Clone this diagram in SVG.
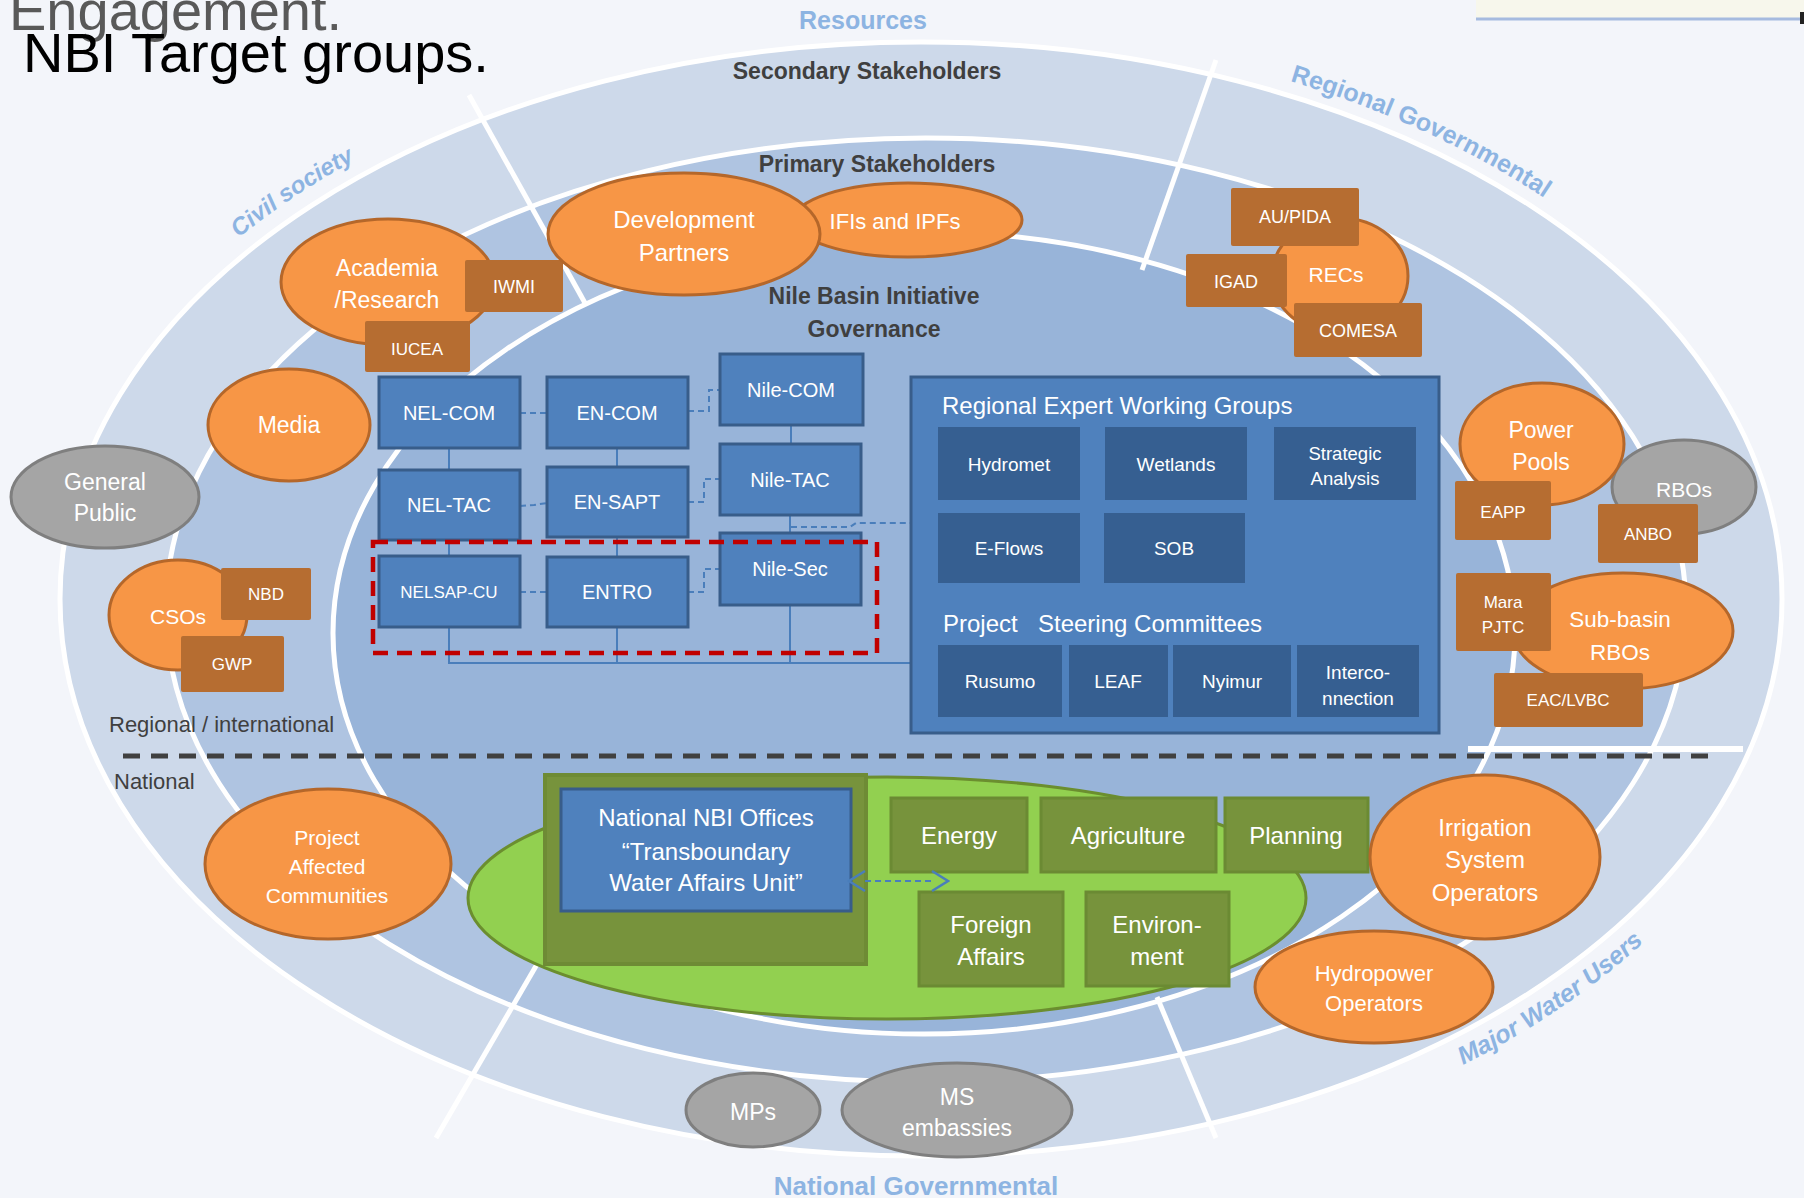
<svg xmlns="http://www.w3.org/2000/svg" width="1804" height="1198" viewBox="0 0 1804 1198">
<defs>
<style>
text{font-family:"Liberation Sans",Arial,sans-serif}
.ring{stroke:#fff;stroke-width:5}
.div{stroke:#fff;stroke-width:5;fill:none}
.org{fill:#f79646;stroke:#b5672a;stroke-width:3}
.brn{fill:#b66d31}
.gry{fill:#a5a5a5;stroke:#7f7f7f;stroke-width:3}
.blu{fill:#4f81bd;stroke:#385d8a;stroke-width:3}
.dkb{fill:#365f91}
.grn{fill:#77933c;stroke:#6b8a33;stroke-width:3}
.w{fill:#fff;text-anchor:middle}
.lbl{fill:#8db4e2;font-weight:bold}
.dk{fill:#3f3f3f}
.hd{fill:#3f3f3f;font-weight:bold;font-size:23px;text-anchor:middle}
.solid{stroke:#4a7ebb;stroke-width:2;fill:none}
.dash{stroke:#4a7ebb;stroke-width:2;fill:none;stroke-dasharray:6 4}
</style>
<marker id="chev" viewBox="0 0 20 24" refX="2" refY="12" markerWidth="20" markerHeight="24" markerUnits="userSpaceOnUse" orient="auto-start-reverse">
<polyline points="2,2 18,12 2,22" fill="none" stroke="#4a7ebb" stroke-width="2.5"/>
</marker>
<path id="arcCivil" d="M238.7,237.8 A878,574 0 0 1 620.7,59.6"/>
<path id="arcRegGov" d="M1290,81 A875,571 0 0 1 1638,271.5"/>
<path id="arcWater" d="M1463,1065 A891,587 0 0 0 1728.5,847"/>
</defs>

<!-- page -->
<rect x="0" y="0" width="1804" height="1198" fill="#f3f5fa"/>
<rect x="1476" y="0" width="328" height="18" fill="#f7f7ec"/>
<line x1="1476" y1="19" x2="1804" y2="19" stroke="#a6bbdf" stroke-width="3"/>
<rect x="1800" y="12" width="4" height="12" fill="#222"/>

<!-- titles -->
<text x="9" y="30" font-size="56" fill="#595959">Engagement.</text>
<text x="23" y="72" font-size="56" fill="#000">NBI Target groups.</text>

<!-- stakeholder rings -->
<g id="rings">
<ellipse class="ring" cx="921" cy="599" rx="861" ry="557" fill="#cdd9ea"/>
<ellipse class="ring" cx="926" cy="610" rx="760" ry="472" fill="#afc4e1"/>
<ellipse class="ring" cx="924" cy="633" rx="591" ry="401" fill="#98b4d9"/>
<line class="div" x1="469" y1="95" x2="585" y2="303"/>
<line class="div" x1="1216" y1="60" x2="1142" y2="270"/>
<line class="div" x1="554" y1="935" x2="436" y2="1138"/>
<line class="div" x1="1157" y1="997" x2="1216" y2="1138"/>
</g>

<!-- ring and sector labels -->
<g id="labels">
<text class="lbl" x="863" y="29" font-size="25" text-anchor="middle">Resources</text>
<text class="lbl" x="916" y="1195" font-size="26" text-anchor="middle">National Governmental</text>
<text class="lbl" font-size="24" font-style="italic"><textPath href="#arcCivil">Civil society</textPath></text>
<text class="lbl" font-size="25"><textPath href="#arcRegGov">Regional Governmental</textPath></text>
<text class="lbl" font-size="25" font-style="italic"><textPath href="#arcWater">Major Water Users</textPath></text>
<text class="hd" x="867" y="79">Secondary Stakeholders</text>
<text class="hd" x="877" y="172">Primary Stakeholders</text>
<text class="hd" x="874" y="304">Nile Basin Initiative</text>
<text class="hd" x="874" y="337">Governance</text>
<text class="dk" x="109" y="732" font-size="22">Regional / international</text>
<text class="dk" x="114" y="789" font-size="22">National</text>
</g>

<!-- regional / national divide -->
<g id="divide">
<line x1="1468" y1="749" x2="1743" y2="749" stroke="#fff" stroke-width="6"/>
<line x1="123" y1="756" x2="1708" y2="756" stroke="#404040" stroke-width="5" stroke-dasharray="17 11"/>
</g>

<!-- national level -->
<g id="national-area">
<ellipse cx="887" cy="898" rx="419" ry="121" fill="#92d050" stroke="#6b8e2f" stroke-width="3"/>
</g>
<g id="national-office">
<rect x="545" y="775" width="321" height="189" fill="#77933c" stroke="#6e8b35" stroke-width="4"/>
<rect class="blu" x="561" y="789" width="290" height="122"/>
<text class="w" font-size="24"><tspan x="706" y="826">National NBI Offices</tspan><tspan x="706" y="860">“Transboundary</tspan><tspan x="706" y="891">Water Affairs Unit”</tspan></text>
</g>
<g id="energy"><rect class="grn" x="891" y="798" width="136" height="74"/><text class="w" x="959" y="844" font-size="24">Energy</text></g>
<g id="agriculture"><rect class="grn" x="1041" y="798" width="175" height="74"/><text class="w" x="1128" y="844" font-size="24">Agriculture</text></g>
<g id="planning"><rect class="grn" x="1225" y="798" width="143" height="74"/><text class="w" x="1296" y="844" font-size="24">Planning</text></g>
<g id="foreign-affairs"><rect class="grn" x="919" y="892" width="144" height="94"/><text class="w" font-size="24"><tspan x="991" y="933">Foreign</tspan><tspan x="991" y="965">Affairs</tspan></text></g>
<g id="environment"><rect class="grn" x="1086" y="892" width="143" height="94"/><text class="w" font-size="24"><tspan x="1157" y="933">Environ-</tspan><tspan x="1157" y="965">ment</tspan></text></g>

<!-- connectors -->
<g id="connectors">
<line class="solid" x1="449" y1="448" x2="449" y2="470"/>
<line class="solid" x1="449" y1="540" x2="449" y2="556"/>
<line class="solid" x1="617" y1="448" x2="617" y2="467"/>
<line class="solid" x1="617" y1="537" x2="617" y2="557"/>
<line class="solid" x1="791" y1="425" x2="791" y2="444"/>
<line class="solid" x1="790" y1="515" x2="790" y2="533"/>
<polyline class="solid" points="449,627 449,663 911,663"/>
<line class="solid" x1="617" y1="627" x2="617" y2="663"/>
<line class="solid" x1="790" y1="605" x2="790" y2="663"/>
<line class="dash" x1="520" y1="413" x2="547" y2="413"/>
<polyline class="dash" points="520,506 534,505 547,503"/>
<line class="dash" x1="520" y1="592" x2="547" y2="592"/>
<polyline class="dash" points="688,411 709,411 709,390 720,390"/>
<polyline class="dash" points="688,502 704,502 704,479 720,479"/>
<polyline class="dash" points="688,592 704,592 704,569 720,569"/>
<polyline class="dash" points="791,527 850,527 856,523 911,523"/>
<line class="dash" x1="865" y1="881" x2="932" y2="881" stroke-width="2.5" marker-start="url(#chev)" marker-end="url(#chev)"/>
</g>

<!-- NBI governance bodies -->
<g id="nel-com"><rect class="blu" x="379" y="377" width="141" height="71"/><text class="w" x="449" y="420" font-size="20">NEL-COM</text></g>
<g id="en-com"><rect class="blu" x="547" y="377" width="141" height="71"/><text class="w" x="617" y="420" font-size="20">EN-COM</text></g>
<g id="nile-com"><rect class="blu" x="720" y="354" width="143" height="71"/><text class="w" x="791" y="397" font-size="20">Nile-COM</text></g>
<g id="nel-tac"><rect class="blu" x="379" y="470" width="141" height="70"/><text class="w" x="449" y="512" font-size="20">NEL-TAC</text></g>
<g id="en-sapt"><rect class="blu" x="547" y="467" width="141" height="70"/><text class="w" x="617" y="509" font-size="20">EN-SAPT</text></g>
<g id="nile-tac"><rect class="blu" x="720" y="444" width="141" height="71"/><text class="w" x="790" y="487" font-size="20">Nile-TAC</text></g>
<g id="nelsap-cu"><rect class="blu" x="379" y="556" width="141" height="71"/><text class="w" x="449" y="598" font-size="17">NELSAP-CU</text></g>
<g id="entro"><rect class="blu" x="547" y="557" width="141" height="70"/><text class="w" x="617" y="599" font-size="20">ENTRO</text></g>
<g id="nile-sec"><rect class="blu" x="720" y="533" width="141" height="72"/><text class="w" x="790" y="576" font-size="20">Nile-Sec</text></g>
<g id="centres-frame"><rect x="373" y="542" width="504" height="111" fill="none" stroke="#c00000" stroke-width="4.5" stroke-dasharray="15 9"/></g>

<!-- working groups and steering committees -->
<g id="expert-groups">
<rect class="blu" x="911" y="377" width="528" height="356"/>
<text x="942" y="414" font-size="24" fill="#fff">Regional Expert Working Groups</text>
<text x="943" y="632" font-size="24" fill="#fff">Project</text>
<text x="1038" y="632" font-size="24" fill="#fff">Steering Committees</text>
</g>
<g id="hydromet"><rect class="dkb" x="938" y="427" width="142" height="73"/><text class="w" x="1009" y="471" font-size="19">Hydromet</text></g>
<g id="wetlands"><rect class="dkb" x="1105" y="427" width="142" height="73"/><text class="w" x="1176" y="471" font-size="19">Wetlands</text></g>
<g id="strategic-analysis"><rect class="dkb" x="1274" y="427" width="142" height="73"/><text class="w" font-size="18.5"><tspan x="1345" y="460">Strategic</tspan><tspan x="1345" y="485">Analysis</tspan></text></g>
<g id="e-flows"><rect class="dkb" x="938" y="513" width="142" height="70"/><text class="w" x="1009" y="555" font-size="19">E-Flows</text></g>
<g id="sob"><rect class="dkb" x="1104" y="513" width="141" height="70"/><text class="w" x="1174" y="555" font-size="19">SOB</text></g>
<g id="rusumo"><rect class="dkb" x="938" y="645" width="124" height="72"/><text class="w" x="1000" y="688" font-size="19">Rusumo</text></g>
<g id="leaf"><rect class="dkb" x="1069" y="645" width="99" height="72"/><text class="w" x="1118" y="688" font-size="19">LEAF</text></g>
<g id="nyimur"><rect class="dkb" x="1173" y="645" width="118" height="72"/><text class="w" x="1232" y="688" font-size="19">Nyimur</text></g>
<g id="interconnection"><rect class="dkb" x="1297" y="645" width="122" height="72"/><text class="w" font-size="19"><tspan x="1358" y="679">Interco-</tspan><tspan x="1358" y="705">nnection</tspan></text></g>

<!-- stakeholder groups -->
<g id="academia">
<ellipse class="org" cx="388" cy="282" rx="107" ry="63"/>
<text class="w" font-size="23"><tspan x="387" y="276">Academia</tspan><tspan x="387" y="308">/Research</tspan></text>
<rect class="brn" x="465" y="260" width="98" height="52" rx="2"/><text class="w" x="514" y="293" font-size="18">IWMI</text>
<rect class="brn" x="365" y="321" width="105" height="51" rx="2"/><text class="w" x="417" y="355" font-size="17">IUCEA</text>
</g>
<g id="ifis">
<ellipse class="org" cx="908" cy="220" rx="114" ry="37"/>
<text class="w" x="895" y="229" font-size="22">IFIs and IPFs</text>
</g>
<g id="development-partners">
<ellipse class="org" cx="684" cy="234" rx="136" ry="61"/>
<text class="w" font-size="24"><tspan x="684" y="228">Development</tspan><tspan x="684" y="261">Partners</tspan></text>
</g>
<g id="recs">
<ellipse class="org" cx="1340" cy="276" rx="68" ry="58"/>
<text class="w" x="1336" y="282" font-size="21">RECs</text>
<rect class="brn" x="1231" y="188" width="128" height="58" rx="2"/><text class="w" x="1295" y="223" font-size="18">AU/PIDA</text>
<rect class="brn" x="1186" y="254" width="101" height="53" rx="2"/><text class="w" x="1236" y="288" font-size="18">IGAD</text>
<rect class="brn" x="1294" y="303" width="128" height="54" rx="2"/><text class="w" x="1358" y="337" font-size="18">COMESA</text>
</g>
<g id="media">
<ellipse class="org" cx="289" cy="425" rx="81" ry="56"/>
<text class="w" x="289" y="433" font-size="23">Media</text>
</g>
<g id="general-public">
<ellipse class="gry" cx="105" cy="497" rx="94" ry="51"/>
<text class="w" font-size="23"><tspan x="105" y="490">General</tspan><tspan x="105" y="521">Public</tspan></text>
</g>
<g id="csos">
<ellipse class="org" cx="178" cy="615" rx="69" ry="55"/>
<text class="w" x="178" y="624" font-size="21">CSOs</text>
<rect class="brn" x="221" y="568" width="90" height="52" rx="2"/><text class="w" x="266" y="600" font-size="17">NBD</text>
<rect class="brn" x="181" y="636" width="103" height="56" rx="2"/><text class="w" x="232" y="670" font-size="17">GWP</text>
</g>
<g id="rbos">
<ellipse class="gry" cx="1684" cy="487" rx="72" ry="47"/>
<text class="w" x="1684" y="497" font-size="21">RBOs</text>
</g>
<g id="power-pools">
<ellipse class="org" cx="1542" cy="444" rx="82" ry="61"/>
<text class="w" font-size="23"><tspan x="1541" y="438">Power</tspan><tspan x="1541" y="470">Pools</tspan></text>
<rect class="brn" x="1455" y="481" width="96" height="59" rx="2"/><text class="w" x="1503" y="518" font-size="17">EAPP</text>
</g>
<g id="anbo"><rect class="brn" x="1598" y="504" width="100" height="59" rx="2"/><text class="w" x="1648" y="540" font-size="17">ANBO</text></g>
<g id="sub-basin-rbos">
<ellipse class="org" cx="1623" cy="631" rx="110" ry="58"/>
<text class="w" font-size="22.5"><tspan x="1620" y="627">Sub-basin</tspan><tspan x="1620" y="660">RBOs</tspan></text>
<rect class="brn" x="1456" y="573" width="95" height="78" rx="2"/>
<text class="w" font-size="17"><tspan x="1503" y="608">Mara</tspan><tspan x="1503" y="633">PJTC</tspan></text>
<rect class="brn" x="1494" y="673" width="149" height="54" rx="2"/><text class="w" x="1568" y="706" font-size="17">EAC/LVBC</text>
</g>
<g id="project-affected-communities">
<ellipse class="org" cx="328" cy="864" rx="123" ry="75"/>
<text class="w" font-size="21"><tspan x="327" y="845">Project</tspan><tspan x="327" y="874">Affected</tspan><tspan x="327" y="903">Communities</tspan></text>
</g>
<g id="hydropower-operators">
<ellipse class="org" cx="1374" cy="987" rx="119" ry="56"/>
<text class="w" font-size="22"><tspan x="1374" y="981">Hydropower</tspan><tspan x="1374" y="1011">Operators</tspan></text>
</g>
<g id="irrigation-operators">
<ellipse class="org" cx="1485" cy="857" rx="115" ry="82"/>
<text class="w" font-size="24"><tspan x="1485" y="836">Irrigation</tspan><tspan x="1485" y="868">System</tspan><tspan x="1485" y="901">Operators</tspan></text>
</g>
<g id="mps">
<ellipse class="gry" cx="753" cy="1110" rx="67" ry="37"/>
<text class="w" x="753" y="1120" font-size="23">MPs</text>
</g>
<g id="ms-embassies">
<ellipse class="gry" cx="957" cy="1110" rx="115" ry="47"/>
<text class="w" font-size="23"><tspan x="957" y="1105">MS</tspan><tspan x="957" y="1136">embassies</tspan></text>
</g>
</svg>
